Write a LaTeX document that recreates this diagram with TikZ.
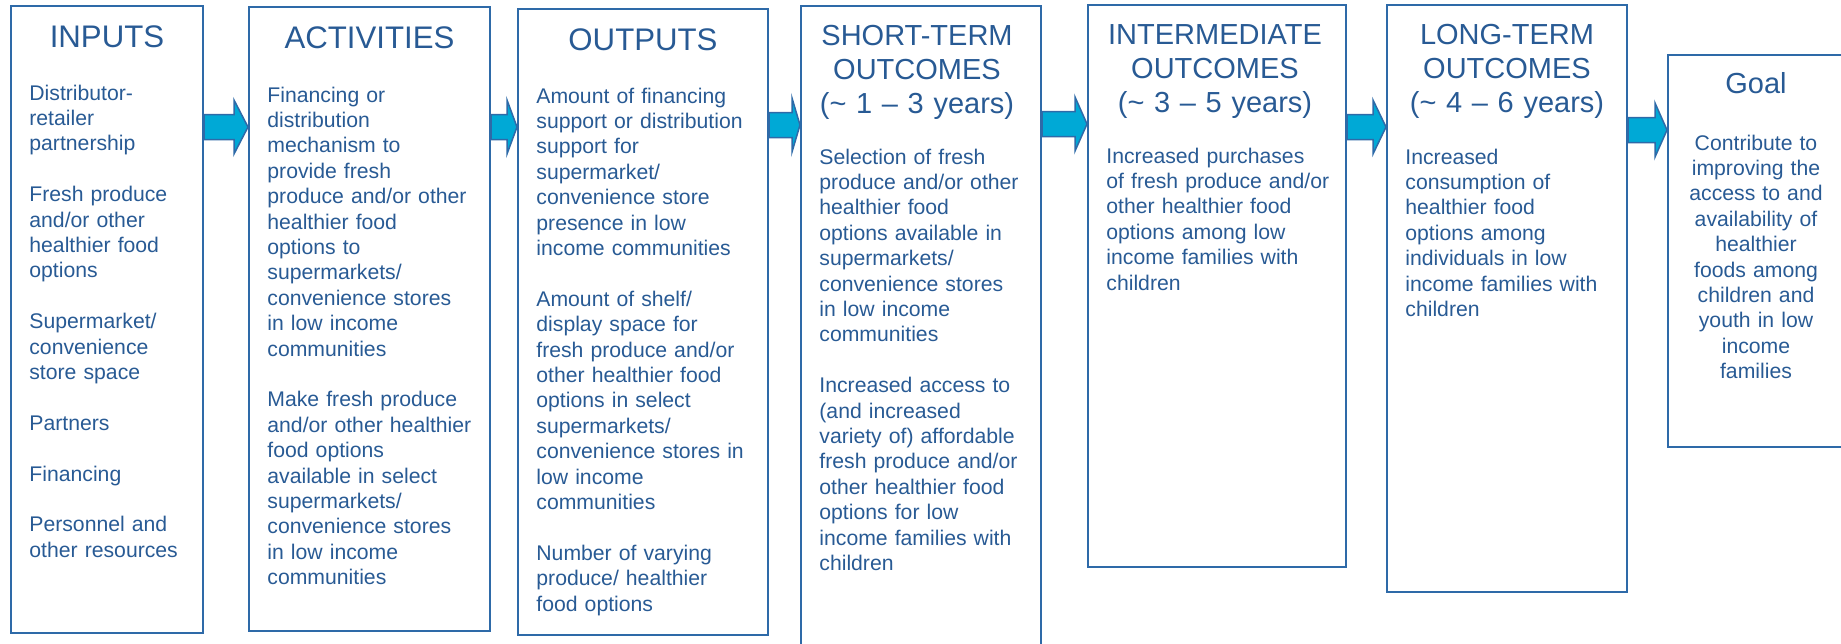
\documentclass[tikz,border=0pt]{standalone}
\usepackage{fontspec}
\setmainfont{Liberation Sans}
\usetikzlibrary{calc}
\definecolor{boxblue}{HTML}{2E6AA8}
\definecolor{txtblue}{HTML}{285A94}
\definecolor{flowcyan}{HTML}{00A9D6}

\begin{document}
\begin{tikzpicture}[x=0.5pt,y=-0.5pt,
    box/.style={draw=boxblue,line width=1pt,anchor=north west,inner sep=0pt},
    ttl/.style={text=txtblue,font=\fontsize{15.6}{17.5}\selectfont,anchor=base,align=center,text width=125pt,inner sep=0pt},
    ttlsm/.style={ttl,font=\fontsize{14.5}{17}\selectfont},
    txt/.style={text=txtblue,font=\fontsize{10.6}{12.7}\selectfont,anchor=base west,align=left,text width=125pt,inner sep=0pt},
    flow/.style={draw=boxblue,fill=flowcyan,line width=0.75pt,
      to path={let \p1=(\tikztostart), \p2=(\tikztotarget) in
        (\x1,\y1+6.25pt) -- (\x2-#1,\y1+6.25pt) -- (\x2-#1,\y1+13.5pt) -- (\x2,\y1)
        -- (\x2-#1,\y1-13.5pt) -- (\x2-#1,\y1-6.25pt) -- (\x1,\y1-6.25pt) -- cycle}},
    flow/.default=6pt]
\useasboundingbox (0,0) rectangle (1841,643);

\node[box,minimum width=96pt,minimum height=313.5pt] (in) at (10,5) {};
\node[box,minimum width=120.5pt,minimum height=312pt] (act) at (248,6) {};
\node[box,minimum width=125pt,minimum height=313pt] (out) at (517,8) {};
\node[box,minimum width=120pt,minimum height=330pt] (st) at (800,5) {};
\node[box,minimum width=129pt,minimum height=281pt] (inter) at (1087,4) {};
\node[box,minimum width=120pt,minimum height=293.5pt] (long) at (1386,4) {};
\node[box,minimum width=100pt,minimum height=196pt] (goal) at (1667,54) {};

\node[ttl] (inttl) at ([shift={(0,42)}]in.north) {INPUTS};
\node[ttl] (actttl) at ([shift={(0,42)}]act.north) {ACTIVITIES};
\node[ttl] (outttl) at ([shift={(0,42)}]out.north) {OUTPUTS};
\node[ttlsm] (stttl) at ([shift={(-4,40)}]st.north) {SHORT-TERM\\OUTCOMES\\(\textasciitilde{} 1 – 3 years)};
\node[ttlsm] (interttl) at ([shift={(-2,40)}]inter.north) {INTERMEDIATE\\OUTCOMES\\(\textasciitilde{} 3 – 5 years)};
\node[ttlsm] (longttl) at ([shift={(0,40)}]long.north) {LONG-TERM\\OUTCOMES\\(\textasciitilde{} 4 – 6 years)};
\node[ttlsm] (goalttl) at ([shift={(89,39)}]goal.north west) {Goal};

\node[txt] (intxt) at ([shift={(19,95)}]in.north west) {Distributor-\\retailer\\partnership\\[12.7pt]
  Fresh produce\\and/or other\\healthier food\\options\\[12.7pt]
  Supermarket/\\convenience\\store space\\[12.7pt]
  Partners\\[12.7pt]
  Financing\\[12.7pt]
  Personnel and\\other resources};
\node[txt] (acttxt) at ([shift={(19,96)}]act.north west) {Financing or\\distribution\\mechanism to\\provide fresh\\produce and/or other\\healthier food\\options to\\supermarkets/\\convenience stores\\in low income\\communities\\[12.7pt]
  Make fresh produce\\and/or other healthier\\food options\\available in select\\supermarkets/\\convenience stores\\in low income\\communities};
\node[txt] (outtxt) at ([shift={(19,95)}]out.north west) {Amount of financing\\support or distribution\\support for\\supermarket/\\convenience store\\presence in low\\income communities\\[12.7pt]
  Amount of shelf/\\display space for\\fresh produce and/or\\other healthier food\\options in select\\supermarkets/\\convenience stores in\\low income\\communities\\[12.7pt]
  Number of varying\\produce/ healthier\\food options};
\node[txt] (sttxt) at ([shift={(19,159)}]st.north west) {Selection of fresh\\produce and/or other\\healthier food\\options available in\\supermarkets/\\convenience stores\\in low income\\communities\\[12.7pt]
  Increased access to\\(and increased\\variety of) affordable\\fresh produce and/or\\other healthier food\\options for low\\income families with\\children};
\node[txt] (intertxt) at ([shift={(19,159)}]inter.north west) {Increased purchases\\of fresh produce and/or\\other healthier food\\options among low\\income families with\\children};
\node[txt] (longtxt) at ([shift={(19,160)}]long.north west) {Increased\\consumption of\\healthier food\\options among\\individuals in low\\income families with\\children};
\node[txt,anchor=base,align=center,text width=95pt] (goaltxt) at ([shift={(89,96)}]goal.north west) {Contribute to\\improving the\\access to and\\availability of\\healthier\\foods among\\children and\\youth in low\\income\\families};

\draw[flow=7pt] (in.east |- 0,127) to (act.west |- 0,127);
\draw[flow=5pt] (act.east |- 0,127) to (out.west |- 0,127);
\draw[flow=4pt] (out.east |- 0,125) to (st.west |- 0,125);
\draw[flow=6pt] (st.east |- 0,124) to (inter.west |- 0,124);
\draw[flow=6.5pt] (inter.east |- 0,127) to (long.west |- 0,127);
\draw[flow=6pt] (long.east |- 0,130) to (goal.west |- 0,130);
\end{tikzpicture}
\end{document}
